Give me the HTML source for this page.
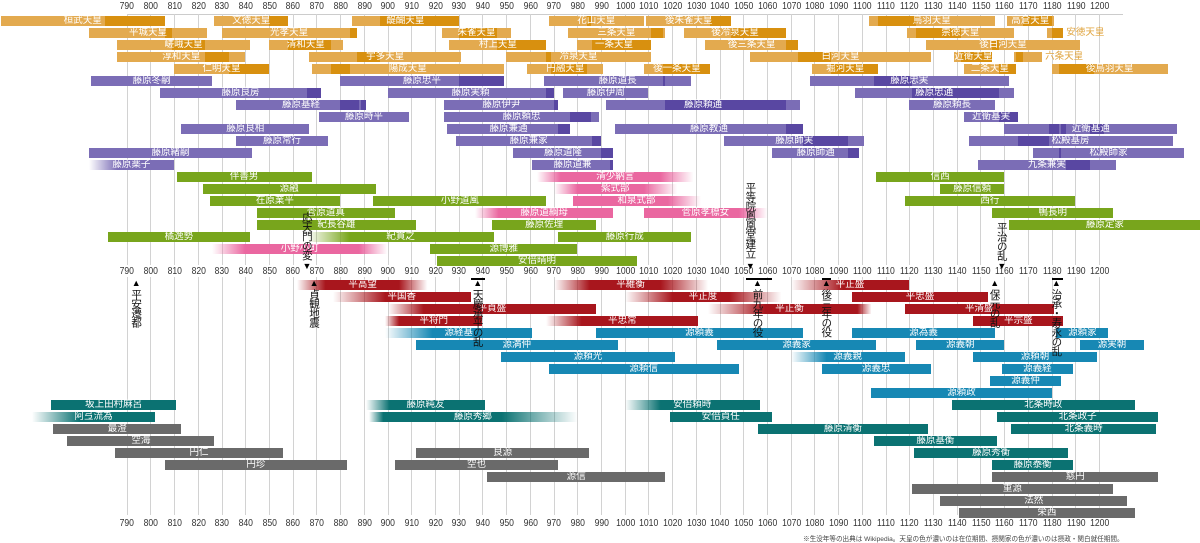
<!DOCTYPE html>
<html lang="ja">
<head>
<meta charset="utf-8">
<style>
html,body{margin:0;padding:0;background:#fff;}
#chart{position:relative;width:1200px;height:543px;overflow:hidden;font-family:"Liberation Sans","Noto Sans CJK JP",sans-serif;}
.grid{position:absolute;top:14px;width:1px;height:501px;background:#d2d2d2;}
.tick{position:absolute;font-size:10.5px;color:#333;width:24px;text-align:center;line-height:12px;white-space:nowrap;}
.tick span{display:inline-block;transform:scaleX(0.82);transform-origin:center;}
.bar{position:absolute;height:10px;line-height:10px;font-size:9.5px;color:#fff;text-align:center;white-space:nowrap;overflow:visible;box-sizing:border-box;}
.seg{position:absolute;top:0;height:10px;}
.lbl{position:absolute;left:0;right:0;top:0;text-align:center;}
.ev{position:absolute;font-size:10.5px;color:#111;writing-mode:vertical-rl;line-height:11px;letter-spacing:-1px;}
.tri{position:absolute;font-size:9px;color:#000;width:10px;text-align:center;line-height:9px;}
.rng{position:absolute;height:2px;background:#000;}
</style>
</head>
<body>
<div id="chart">
  <div style="position:absolute;left:127px;top:14px;width:996px;height:1px;background:#ccc;"></div>
  <div id="note" style="position:absolute;left:803px;top:533px;font-size:6.6px;color:#444;white-space:nowrap;">※生没年等の出典は Wikipedia。天皇の色が濃いのは在位期間、摂関家の色が濃いのは摂政・関白就任期間。</div>
</div>
<script>
// ---- data ----
const tickYears = [790,800,810,820,830,840,850,860,870,880,890,900,910,920,930,940,950,960,970,980,990,1000,1010,1020,1030,1040,1050,1060,1070,1080,1090,1100,1110,1120,1130,1140,1150,1160,1170,1180,1190,1200];
// [name,row,birth,death,[[reignStart,reignEnd]]]
const emperors = [
 ["桓武天皇",0,737,806,[[781,806]]],["文徳天皇",0,827,858,[[850,858]]],["醍醐天皇",0,885,930,[[897,930]]],["花山天皇",0,968,1008,[[984,986]]],["後朱雀天皇",0,1009,1045,[[1036,1045]]],["鳥羽天皇",0,1103,1156,[[1107,1123]]],["高倉天皇",0,1161,1181,[[1168,1180]]],
 ["平城天皇",1,774,824,[[806,809]]],["光孝天皇",1,830,887,[[884,887]]],["朱雀天皇",1,923,952,[[930,946]]],["三条天皇",1,976,1017,[[1011,1016]]],["後冷泉天皇",1,1025,1068,[[1045,1068]]],["崇徳天皇",1,1119,1164,[[1123,1142]]],["安徳天皇",1,1178,1185,[[1180,1185]]],
 ["嵯峨天皇",2,786,842,[[809,823]]],["清和天皇",2,850,881,[[858,876]]],["村上天皇",2,926,967,[[946,967]]],["一条天皇",2,980,1011,[[986,1011]]],["後三条天皇",2,1034,1073,[[1068,1073]]],["後白河天皇",2,1127,1192,[[1155,1158]]],
 ["淳和天皇",3,786,840,[[823,833]]],["宇多天皇",3,867,931,[[887,897]]],["冷泉天皇",3,950,1011,[[967,969]]],["白河天皇",3,1053,1129,[[1073,1087]]],["近衛天皇",3,1139,1155,[[1142,1155]]],["六条天皇",3,1164,1176,[[1165,1168]]],
 ["仁明天皇",4,810,850,[[833,850]]],["陽成天皇",4,868,949,[[876,884]]],["円融天皇",4,959,991,[[969,984]]],["後一条天皇",4,1008,1036,[[1016,1036]]],["堀河天皇",4,1079,1107,[[1087,1107]]],["二条天皇",4,1143,1165,[[1158,1165]]],["後鳥羽天皇",4,1180,1229,[[1183,1198]]]
];
const outsideLabels = ["安徳天皇","六条天皇"];
// [name,row,start,end,[[regentStart,regentEnd]],fadeLeftYears]
const regents = [
 ["藤原冬嗣",5,775,826,[],0],["藤原忠平",5,880,949,[[930,949]],0],["藤原道長",5,966,1028,[[1016,1017]],0],["藤原忠実",5,1078,1162,[[1105,1121]],0],
 ["藤原良房",6,804,872,[[866,872]],0],["藤原実頼",6,900,970,[[967,970]],0],["藤原伊周",6,974,1010,[],0],["藤原忠通",6,1097,1164,[[1121,1158]],0],
 ["藤原基経",7,836,891,[[880,888],[889,891]],0],["藤原伊尹",7,924,972,[[970,972]],0],["藤原頼通",7,992,1074,[[1017,1068]],0],["藤原頼長",7,1120,1156,[],0],
 ["藤原時平",8,871,909,[],0],["藤原頼忠",8,924,989,[[977,986]],0],["近衛基実",8,1143,1166,[[1158,1166]],0],
 ["藤原良相",9,813,867,[],0],["藤原兼通",9,925,977,[[972,977]],0],["藤原教通",9,996,1075,[[1068,1075]],0],["近衛基通",9,1160,1233,[[1179,1183],[1184,1186],[1196,1202]],0],
 ["藤原常行",10,836,875,[],0],["藤原兼家",10,929,990,[[986,990]],0],["藤原師実",10,1042,1101,[[1075,1094]],0],["松殿基房",10,1145,1231,[[1166,1179]],0],
 ["藤原緒嗣",11,774,843,[],0],["藤原道隆",11,953,995,[[990,995]],0],["藤原師通",11,1062,1099,[[1094,1099]],0],["松殿師家",11,1172,1236,[[1183,1184]],0],
 ["藤原薬子",12,774,810,[],12],["藤原道兼",12,961,995,[[994,995]],0],["九条兼実",12,1149,1207,[[1186,1196]],0]
];
// [name,row,start,end,fadeLeftYears,fadeRightYears,group]
const people = [
 ["伴善男",13,811,868,0,0,"g"],["源融",14,822,895,0,0,"g"],["在原業平",15,825,880,0,0,"g"],["菅原道真",16,845,903,0,0,"g"],["紀長谷雄",17,845,912,0,0,"g"],["橘逸勢",18,782,842,0,0,"g"],
 ["小野小町",19,826,900,14,12,"p"],["紀貫之",18,866,945,18,0,"g"],["小野道風",15,894,967,0,0,"g"],["源博雅",19,918,980,0,0,"g"],["安倍晴明",20,921,1005,0,0,"g"],
 ["藤原道綱母",16,937,995,10,0,"p"],["藤原佐理",17,944,988,0,0,"g"],["藤原行成",18,972,1028,0,0,"g"],["清少納言",13,963,1029,10,14,"p"],["紫式部",14,970,1022,10,14,"p"],["和泉式部",15,978,1032,0,14,"p"],["菅原孝標女",16,1008,1060,0,12,"p"],
 ["信西",13,1106,1160,0,0,"g"],["藤原信頼",14,1133,1160,0,0,"g"],["西行",15,1118,1190,0,0,"g"],["鴨長明",16,1155,1206,0,0,"g"],["藤原定家",17,1162,1243,0,0,"g"],
 ["平高望",22,862,917,12,12,"r"],["平維衡",22,970,1035,15,20,"r"],["平正盛",22,1070,1120,22,0,"r"],
 ["平国香",23,877,935,22,0,"r"],["平正度",23,1000,1066,20,22,"r"],["平忠盛",23,1096,1153,0,0,"r"],
 ["平貞盛",24,900,988,15,0,"r"],["平正衡",24,1035,1104,24,6,"r"],["平清盛",24,1118,1181,0,0,"r"],
 ["平将門",25,899,940,6,0,"r"],["平忠常",25,967,1031,15,0,"r"],["平宗盛",25,1147,1185,0,0,"r"],
 ["源経基",26,899,961,20,0,"b"],["源頼義",26,988,1075,0,0,"b"],["源為義",26,1096,1156,0,0,"b"],["源頼家",26,1182,1204,0,0,"b"],
 ["源満仲",27,912,997,0,0,"b"],["源義家",27,1039,1106,0,0,"b"],["源義朝",27,1123,1160,0,0,"b"],["源実朝",27,1192,1219,0,0,"b"],
 ["源頼光",28,948,1021,0,0,"b"],["源義親",28,1070,1118,15,0,"b"],["源頼朝",28,1147,1199,0,0,"b"],
 ["源頼信",29,968,1048,0,0,"b"],["源義忠",29,1083,1129,0,0,"b"],["源義経",29,1159,1189,0,0,"b"],
 ["源義仲",30,1154,1184,0,0,"b"],["源頼政",31,1104,1180,0,0,"b"],
 ["坂上田村麻呂",32,758,811,0,0,"t"],["藤原純友",32,891,941,10,0,"t"],["安倍頼時",32,1000,1057,15,0,"t"],["北条時政",32,1138,1215,0,0,"t"],
 ["阿弖流為",33,750,802,20,0,"t"],["藤原秀郷",33,892,980,6,32,"t"],["安倍貞任",33,1019,1062,0,0,"t"],["北条政子",33,1157,1225,0,0,"t"],
 ["藤原清衡",34,1056,1128,0,0,"t"],["北条義時",34,1163,1224,0,0,"t"],["藤原基衡",35,1105,1157,0,0,"t"],["藤原秀衡",36,1122,1187,0,0,"t"],["藤原泰衡",37,1155,1189,0,0,"t"],
 ["最澄",34,759,813,0,0,"k"],["空海",35,765,827,0,0,"k"],["円仁",36,785,856,0,0,"k"],["円珍",37,806,883,0,0,"k"],["良源",36,912,985,0,0,"k"],["空也",37,903,972,0,0,"k"],["源信",38,942,1017,0,0,"k"],
 ["慈円",38,1155,1225,0,0,"k"],["重源",39,1121,1206,0,0,"k"],["法然",40,1133,1212,0,0,"k"],["栄西",41,1141,1215,0,0,"k"]
];
// [label,year,side,rangeStart,rangeEnd]
const events = [
 ["平安遷都",794,"down",0,0],["応天門の変",866,"up",0,0],["貞観地震",869,"down",0,0],["天慶承平の乱",938,"down",935,941],
 ["平等院鳳凰堂建立",1053,"up",0,0],["前九年の役",1056,"down",1051,1062],["後三年の役",1085,"down",1083,1087],
 ["平治の乱",1159,"up",0,0],["保元の乱",1156,"down",0,0],["治承・寿永の乱",1182,"down",1180,1185]
];
// ---- scales ----
const X0 = 126.7, PX = 2.3715;
function xs(yr){ return X0 + (yr-790)*PX; }
function ys(row){ return 16 + row*12; }
const colors = {g:"#78a51c",p:"#ea67a0",r:"#a8161d",b:"#1788b4",t:"#0b7272",k:"#6a6a6a"};
const chart = document.getElementById('chart');

tickYears.forEach(yr=>{
  const g = document.createElement('div');
  g.className='grid';
  
  
  g.style.left = Math.round(xs(yr))+'px';
  chart.appendChild(g);
  [5,270,522].forEach((ty,i)=>{
    const t = document.createElement('div');
    t.className='tick';
    
    
    t.style.left=(xs(yr)-11.5)+'px'; t.style.top=(ty-5)+'px';
    if(i<2) t.style.background='#fff';
    const sp=document.createElement('span');
    sp.textContent=yr;
    t.appendChild(sp);
    chart.appendChild(t);
  });
});

function hex2rgba(h,a){const n=parseInt(h.slice(1),16);return 'rgba('+(n>>16)+','+((n>>8)&255)+','+(n&255)+','+a+')';}

function makeBar(name,row,s,e,bg){
  const d=document.createElement('div');
  d.className='bar';
  
  
  d.style.left=xs(s)+'px'; d.style.width=(xs(e)-xs(s))+'px'; d.style.top=ys(row)+'px';
  d.style.background=bg;
  chart.appendChild(d);
  return d;
}
function addLabel(d,name,color){
  const l=document.createElement('div');
  l.className='lbl';
  
  
  l.textContent=name;
  if(color){l.style.color=color;}
  d.appendChild(l);
  return l;
}
function addSeg(d,s0,ss,se,bg){
  const g=document.createElement('div');
  g.className='seg';
  
  
  g.style.left=(xs(ss)-xs(s0))+'px'; g.style.width=Math.max(1,xs(se)-xs(ss))+'px';
  g.style.background=bg;
  d.appendChild(g);
}

emperors.forEach(em=>{
  const [name,row,s,e,segs]=em;
  const d=makeBar(name,row,s,e,"#e3aa4f");
  segs.forEach(sg=>addSeg(d,s,sg[0],sg[1],"#d8900f"));
  if(outsideLabels.includes(name)){
    const l=addLabel(d,name,"#e0a540");
    l.style.left='100%'; l.style.right='auto'; l.style.paddingLeft='3px';
  } else addLabel(d,name);
});

regents.forEach(rg=>{
  const [name,row,s,e,segs,fl]=rg;
  let bg="#7b6db6";
  if(fl){const w=xs(s+fl)-xs(s);bg='linear-gradient(to right,'+hex2rgba('#7b6db6',0)+' 0px,#7b6db6 '+w+'px)';}
  const d=makeBar(name,row,s,e,bg);
  segs.forEach(sg=>addSeg(d,s,sg[0],sg[1],"#5947a2"));
  addLabel(d,name);
});

people.forEach(p=>{
  const [name,row,s,e,fl,fr,grp]=p;
  const c=colors[grp];
  let bg=c;
  if(fl||fr){
    const w=xs(e)-xs(s), a=xs(s+fl)-xs(s), b=w-(xs(s+fr)-xs(s));
    bg='linear-gradient(to right,'+(fl?hex2rgba(c,0):c)+' 0px,'+c+' '+a+'px,'+c+' '+b+'px,'+(fr?hex2rgba(c,0):c)+' '+w+'px)';
  }
  const d=makeBar(name,row,s,e,bg);
  addLabel(d,name);
});

events.forEach(ev=>{
  const [label,yr,side,rs,re]=ev;
  const x=xs(yr);
  const t=document.createElement('div');
  t.className='ev';
  
  
  t.textContent=label;
  const len=[...label].length;
  t.style.left=(x-6)+'px';
  t.style.top=(side==='up'? (262-len*10) : 289)+'px';
  chart.appendChild(t);
  const tr=document.createElement('div');
  tr.className='tri';
  
  
  tr.textContent= side==='up'?'▼':'▲';
  tr.style.left=(x-5)+'px'; tr.style.top=(side==='up'?262:279)+'px';
  chart.appendChild(tr);
  if(re>rs){
    const r=document.createElement('div');
    r.className='rng';
    
    
    r.style.left=xs(rs)+'px'; r.style.width=(xs(re)-xs(rs))+'px'; r.style.top='278px';
    chart.appendChild(r);
  }
});
</script>
</body>
</html>
